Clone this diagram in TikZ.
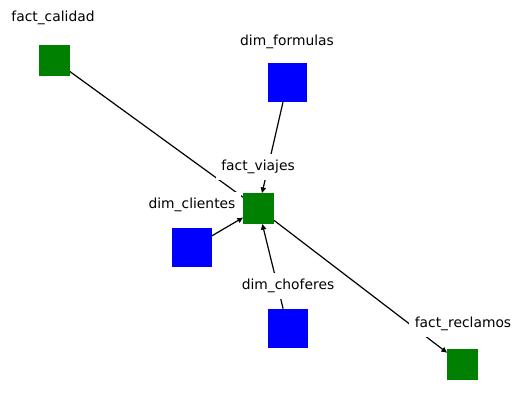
\documentclass[tikz,border=0pt]{standalone}
\usepackage{fontspec}
\setmainfont{DejaVu Sans}
\usetikzlibrary{arrows.meta,backgrounds}
\definecolor{mplgreen}{RGB}{0,128,0}
\definecolor{mplblue}{RGB}{0,0,255}
\begin{document}
\begin{tikzpicture}[x=1bp,y=-1bp,
  fact/.style={fill=mplgreen, minimum size=31bp, inner sep=0pt, outer sep=0pt},
  dim/.style={fill=mplblue, minimum size=39.5bp, inner sep=0pt, outer sep=0pt},
  lbl/.style={fill=white, inner sep=5.5bp, text height=10.6bp, text depth=4bp, anchor=base, font=\fontsize{13.9}{16}\selectfont},
  edge/.style={line width=1.2bp, black},
  arr/.style={edge, -{Triangle[length=5.6bp,width=5.2bp]}}]
\useasboundingbox (0,0) rectangle (521,407);
% nodes
\node[fact] (fcal) at (54,60) {};
\node[dim]  (dfor) at (287.5,82.5) {};
\node[fact] (fvia) at (258.5,208.5) {};
\node[dim]  (dcli) at (192,247.5) {};
\node[dim]  (dcho) at (288,328.5) {};
\node[fact] (frec) at (462.5,364.5) {};
% labels
\node[lbl] (lfcal) at (53,21) {fact\_calidad};
\node[lbl] (ldfor) at (287,45) {dim\_formulas};
\node[lbl] (lfvia) at (258,170) {fact\_viajes};
\node[lbl] (ldcli) at (192,208.5) {dim\_clientes};
\node[lbl] (ldcho) at (288,289.5) {dim\_choferes};
\node[lbl] (lfrec) at (463,327) {fact\_reclamos};
% edges
\begin{scope}[on background layer]
\draw[edge] (fcal) -- (fvia);
\draw[arr] (dfor) -- (fvia);
\draw[arr] (dcli) -- (fvia);
\draw[arr] (dcho) -- (fvia);
\draw[arr] (fvia) -- (frec);
\end{scope}
\end{tikzpicture}
\end{document}
